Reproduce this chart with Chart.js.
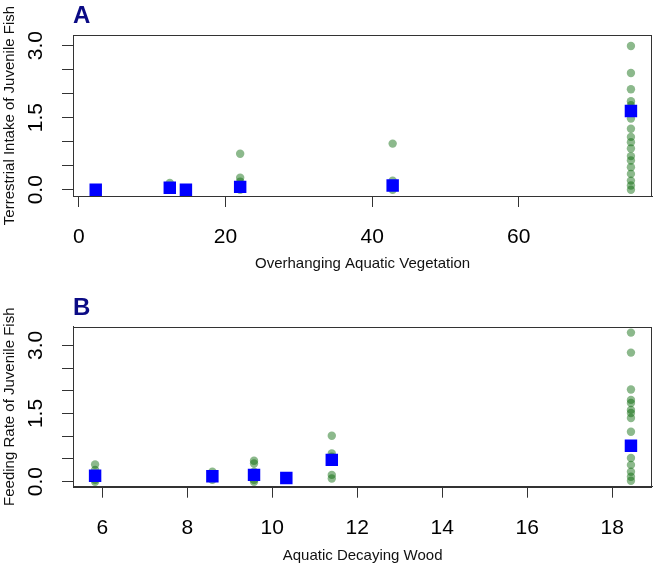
<!DOCTYPE html>
<html><head><meta charset="utf-8">
<script src="https://cdn.jsdelivr.net/npm/chart.js@4/dist/chart.umd.min.js"></script>
<style>
html,body{margin:0;padding:0;background:#fff;}
#wrap{position:relative;width:661px;height:569px;overflow:hidden;background:#fff;}
canvas{position:absolute;left:0;}
</style></head><body>
<div id="wrap">
<canvas id="cA" width="661" height="284" style="top:0px"></canvas>
<canvas id="cB" width="661" height="285" style="top:284px"></canvas>
</div>
<script>
// ---------- Panel A data ----------
const vegX = [2.3, 12.4, 14.6, 22.0, 42.8, 75.3];
const vegMean = [0.0, 0.04, 0.0, 0.06, 0.09, 1.64];
const vegObs1 = [0.0, 0.0, 0.02];
const vegObs2 = [0.14, 0.05, 0.0];
const vegObs3 = [0.0, 0.0];
const vegObs4 = [0.75, 0.25, 0.17, 0.05, 0.0];
const vegObs5 = [0.96, 0.19, 0.1, 0.0];
const vegObs6 = [2.99, 2.43, 2.09, 1.84, 1.76, 1.6, 1.48, 1.27, 1.10, 0.99, 0.86, 0.70, 0.61, 0.47, 0.33, 0.19, 0.09, 0.0];
const vegXTicks = [0, 20, 40, 60];
// ---------- Panel B data ----------
const woodX = [5.83, 8.59, 9.57, 10.33, 11.4, 18.44];
const woodMean = [0.13, 0.12, 0.15, 0.08, 0.48, 0.79];
const woodObs1 = [0.38, 0.26, 0.12, 0.04, 0.0];
const woodObs2 = [0.22, 0.12, 0.04];
const woodObs3 = [0.46, 0.40, 0.22, 0.10, 0.04, 0.0];
const woodObs4 = [0.08];
const woodObs5 = [1.01, 0.62, 0.55, 0.15, 0.07];
const woodObs6 = [3.28, 2.84, 2.03, 1.80, 1.73, 1.58, 1.51, 1.40, 1.10, 0.52, 0.37, 0.22, 0.11, 0.02];
const woodXTicks = [6, 8, 10, 12, 14, 16, 18];
// ---------- shared y ticks ----------
const yTicks = [0, 0.5, 1.0, 1.5, 2.0, 2.5, 3.0];
const yLabelled = [0, 1.5, 3.0];

Chart.defaults.font.family = "'Liberation Sans', Arial, Helvetica, sans-serif";
Chart.defaults.color = '#000';

const boxPlugin = {
  id: 'box',
  afterDatasetsDraw(chart) {
    const {ctx, chartArea: a} = chart;
    ctx.save();
    ctx.strokeStyle = '#333';
    ctx.lineWidth = 1;
    ctx.strokeRect(Math.round(a.left) + 0.5, Math.round(a.top) + 0.5,
                   Math.round(a.right - a.left) - 1, Math.round(a.bottom - a.top));
    ctx.restore();
  }
};

function buildPoints(xs, groups) {
  const pts = [];
  groups.forEach((g, i) => g.forEach(v => pts.push({x: xs[i], y: v})));
  return pts;
}

function makePanel(id, p) {
  const ctx = document.getElementById(id);
  return new Chart(ctx, {
    type: 'scatter',
    data: {
      datasets: [
        {
          label: 'mean',
          data: p.xs.map((x, i) => ({x: x, y: p.means[i]})),
          pointStyle: 'rect',
          pointRadius: 8.8,
          pointHoverRadius: 8.8,
          backgroundColor: '#0000ff',
          borderWidth: 0
        },
        {
          label: 'obs',
          data: buildPoints(p.xs, p.groups),
          pointStyle: 'circle',
          pointRadius: 4.2,
          pointHoverRadius: 4.2,
          backgroundColor: 'rgba(0,100,0,0.45)',
          borderWidth: 0
        }
      ]
    },
    options: {
      responsive: false,
      animation: false,
      events: [],
      layout: { padding: { left: 0, right: 6, top: 0, bottom: 0 } },
      plugins: {
        legend: { display: false },
        tooltip: { enabled: false },
        title: {
          display: true,
          text: p.letter,
          align: 'start',
          fullSize: false,
          color: '#0b0b85',
          font: { size: 24, weight: 'bold' },
          padding: { top: p.titleTop, bottom: p.titleBottom }
        }
      },
      scales: {
        x: {
          type: 'linear',
          min: p.xMin, max: p.xMax,
          afterBuildTicks: s => { s.ticks = p.xTicks.map(v => ({value: v})); },
          afterFit: s => { s.height = p.xAxisH; },
          grid: { drawOnChartArea: false, drawTicks: true, tickLength: 11, tickColor: '#333', tickWidth: 1 },
          border: { display: true, color: '#333', width: 1 },
          ticks: { autoSkip: false, minRotation: 0, maxRotation: 0, padding: 18,
                   font: { size: 21 }, color: '#000',
                   callback: v => String(v) },
          title: { display: true, text: p.xTitle, color: '#111',
                   font: { size: 15 }, padding: { top: 0, bottom: p.xTitlePad } }
        },
        y: {
          type: 'linear',
          min: p.yMin, max: p.yMax,
          afterBuildTicks: s => { s.ticks = yTicks.map(v => ({value: v})); },
          afterFit: s => { s.width = 73; },
          grid: { drawOnChartArea: false, drawTicks: true, tickLength: 11, tickColor: '#333', tickWidth: 1 },
          border: { display: true, color: '#333', width: 1 },
          ticks: { autoSkip: false, minRotation: 90, maxRotation: 90, crossAlign: 'center', padding: 11,
                   font: { size: 21 }, color: '#000',
                   callback: v => yLabelled.includes(v) ? v.toFixed(1) : '' },
          title: { display: true, text: p.yTitle, color: '#111',
                   font: { size: 15 }, padding: { top: 1, bottom: 0 } }
        }
      }
    },
    plugins: [boxPlugin]
  });
}

makePanel('cA', {
  letter: 'A',
  xs: vegX, means: vegMean,
  groups: [vegObs1, vegObs2, vegObs3, vegObs4, vegObs5, vegObs6],
  xTicks: vegXTicks, xMin: -0.8, xMax: 78.2,
  yMin: -0.13, yMax: 3.22,
  titleTop: 2, titleBottom: 4.2,
  xAxisH: 88, xTitlePad: 11,
  xTitle: 'Overhanging Aquatic Vegetation',
  yTitle: 'Terrestrial Intake of Juvenile Fish'
});

makePanel('cB', {
  letter: 'B',
  xs: woodX, means: woodMean,
  groups: [woodObs1, woodObs2, woodObs3, woodObs4, woodObs5, woodObs6],
  xTicks: woodXTicks, xMin: 5.31, xMax: 18.94,
  yMin: -0.11, yMax: 3.41,
  titleTop: 10.2, titleBottom: 3.7,
  xAxisH: 82.3, xTitlePad: 4.5,
  xTitle: 'Aquatic Decaying Wood',
  yTitle: 'Feeding Rate of Juvenile Fish'
});
</script>
</body></html>
